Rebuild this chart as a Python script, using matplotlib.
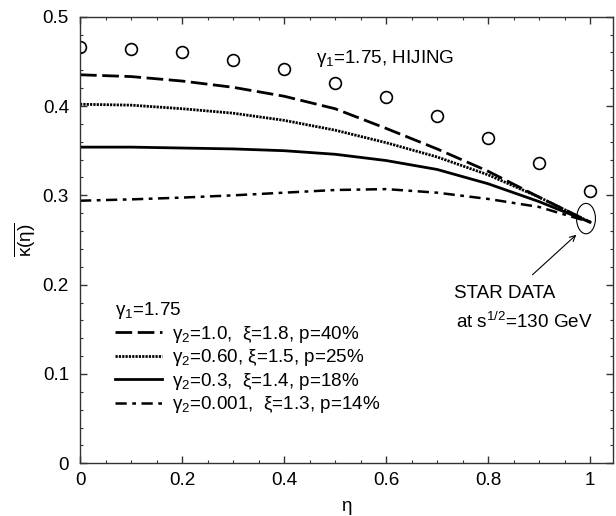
import numpy as np
import matplotlib
matplotlib.use("Agg")
import matplotlib.pyplot as plt
from matplotlib.patches import Ellipse
from matplotlib.ticker import MultipleLocator, FuncFormatter

plt.rcParams['font.family'] = ['Liberation Sans', 'DejaVu Sans']
plt.rcParams['mathtext.fontset'] = 'custom'
plt.rcParams['mathtext.rm'] = 'Liberation Sans'
plt.rcParams['mathtext.it'] = 'Liberation Sans:italic'
plt.rcParams['mathtext.bf'] = 'Liberation Sans:bold'

FS = 13.6

# eta grid
eta = [0.0, 0.1, 0.2, 0.3, 0.4, 0.5, 0.6, 0.7, 0.8, 0.9, 1.0]

# HIJING points (open circles)
hijing = [0.466, 0.464, 0.460, 0.4515, 0.441, 0.426, 0.410, 0.389, 0.3645, 0.3365, 0.305]

# model curves
k_dash = [0.435, 0.433, 0.428, 0.421, 0.411, 0.397, 0.375, 0.352, 0.327, 0.298, 0.270]
k_dot = [0.402, 0.401, 0.397, 0.392, 0.384, 0.373, 0.359, 0.343, 0.323, 0.298, 0.270]
k_solid = [0.354, 0.354, 0.353, 0.352, 0.350, 0.346, 0.339, 0.329, 0.313, 0.293, 0.270]
k_dashdot = [0.294, 0.2955, 0.2975, 0.300, 0.303, 0.306, 0.307, 0.303, 0.296, 0.287, 0.270]

labels = ['γ$_2$=1.0,  ξ=1.8, p=40%',
          'γ$_2$=0.60, ξ=1.5, p=25%',
          'γ$_2$=0.3,  ξ=1.4, p=18%',
          'γ$_2$=0.001,  ξ=1.3, p=14%']

# STAR data point
star_eta, star_k = 0.992, 0.274

fig = plt.figure(figsize=(6.16, 5.16), dpi=100)
ax = fig.add_axes([0.1299, 0.1021, 0.8653, 0.8655])

ax.plot(eta, hijing, 'o', mfc='none', mec='black', ms=8.5, mew=1.2)
l1, = ax.plot(eta, k_dash, color='black', lw=2.0, ls=(0, (6, 2)))
l2, = ax.plot(eta, k_dot, color='black', lw=2.0, ls=(0, (0.8, 0.4)))
l3, = ax.plot(eta, k_solid, color='black', lw=2.0, ls='-')
l4, = ax.plot(eta, k_dashdot, color='black', lw=1.8, ls=(0, (4.5, 2.2, 1.5, 2.2)))

ax.add_patch(Ellipse((star_eta, star_k), 0.037, 0.034, fill=False, lw=0.8, color='black'))
ax.annotate('', xy=(0.977, 0.258), xytext=(0.883, 0.209),
            arrowprops=dict(arrowstyle='->', lw=0.8, color='black'))
ax.text(0.733, 0.1906, 'STAR DATA', fontsize=FS, ha='left', va='center')
ax.text(0.737, 0.1585, 'at s$^{1/2}$=130 GeV', fontsize=FS, ha='left', va='center')
ax.text(0.4626, 0.4537, 'γ$_1$=1.75, HIJING', fontsize=FS, ha='left', va='center')

leg = ax.legend([l1, l2, l3, l4], labels, title='γ$_1$=1.75', loc='upper left',
                bbox_to_anchor=(0.066, 0.365), frameon=False, fontsize=FS,
                title_fontsize=FS, handlelength=2.5, handletextpad=0.5,
                labelspacing=0.13, borderpad=0, borderaxespad=0, alignment='left')

ax.set_xlim(0, 1.045)
ax.set_ylim(0, 0.5)
ax.xaxis.set_major_locator(MultipleLocator(0.2))
ax.xaxis.set_minor_locator(MultipleLocator(0.05))
ax.yaxis.set_major_locator(MultipleLocator(0.1))
ax.yaxis.set_minor_locator(MultipleLocator(0.02))
fmt = FuncFormatter(lambda v, p: '%g' % round(v, 3))
ax.xaxis.set_major_formatter(fmt)
ax.yaxis.set_major_formatter(fmt)
ax.tick_params(which='both', direction='in', top=True, right=True, labelsize=FS, color='#333333')
ax.tick_params(which='major', length=5, width=1)
ax.tick_params(which='minor', length=2.5, width=0.8)
ax.tick_params(axis='x', pad=6)
ax.tick_params(axis='y', pad=8)
for s in ax.spines.values():
    s.set_color('#333333')
    s.set_linewidth(1.0)

ax.set_xlabel('η', fontsize=FS, labelpad=7)
ax.set_ylabel(r'$\overline{\mathrm{\kappa(\eta)}}$', fontsize=FS)

fig.savefig('out.png', dpi=100)
